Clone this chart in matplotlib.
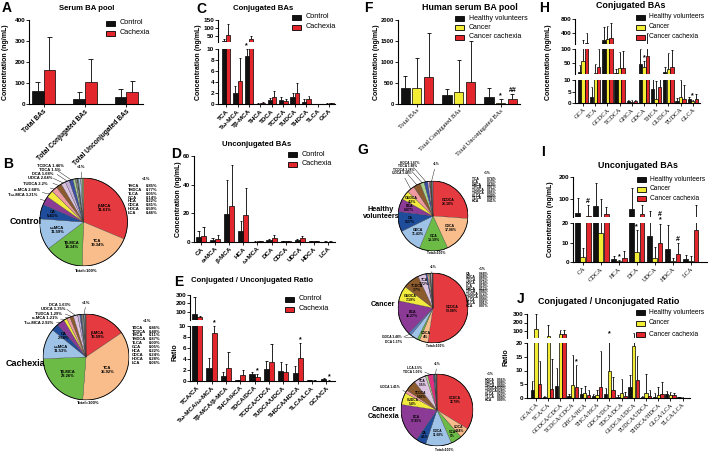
import numpy as np
import matplotlib
matplotlib.use('Agg')
import matplotlib.pyplot as plt
from matplotlib.patches import Rectangle, Circle

plt.rcParams['font.family'] = ['Liberation Sans', 'DejaVu Sans']
plt.rcParams['font.weight'] = 'bold'
plt.rcParams['axes.linewidth'] = 0.8

W, H = 709, 454
fig = plt.figure(figsize=(W / 100, H / 100), dpi=100)

BLACK = '#111111'
RED = '#E3262B'
YELLOW = '#F3EC34'
SERIF = ['Liberation Serif', 'DejaVu Serif']

# ------------------------------------------------------------------ data
# A  Serum BA pool (mouse)
A_cats = ['Total BAs', 'Total Conjugated BAs', 'Total Unconjugated BAs']
A_control = [60, 25, 35]
A_control_err = [45, 32, 38]
A_cachexia = [160, 105, 55]
A_cachexia_err = [160, 110, 55]

# C  Conjugated BAs (mouse)
C_cats = ['TCA', 'Tω-MCA', 'Tβ-MCA', 'THCA', 'TDCA', 'TCDCA', 'TUDCA', 'THDCA', 'TLCA', 'GCA']
C_control = [20, 2.0, 8.7, 0.1, 0.8, 0.8, 1.3, 0.4, 0.02, 0.1]
C_control_err = [12, 1.3, 1.3, 0.15, 0.4, 0.5, 0.7, 0.5, 0.02, 0.1]
C_cachexia = [56, 4.2, 30, 0.3, 1.3, 0.6, 2.0, 0.9, 0.02, 0.15]
C_cachexia_err = [70, 4.3, 20, 0.2, 1.1, 0.4, 1.8, 0.6, 0.02, 0.1]

# D  Unconjugated BAs (mouse)
D_cats = ['CA', 'α-MCA', 'β-MCA', 'HCA', 'ω-MCA', 'DCA', 'CDCA', 'UDCA', 'HDCA', 'LCA']
D_control = [3.7, 1.5, 19.5, 7.5, 0.3, 1.2, 0.5, 1.3, 0.5, 0.3]
D_control_err = [4, 1.5, 24, 7, 0.3, 0.8, 0.4, 1.0, 0.4, 0.3]
D_cachexia = [4.2, 2.0, 25, 18.5, 0.5, 2.8, 0.4, 2.5, 0.4, 0.2]
D_cachexia_err = [6, 3, 29, 19, 0.4, 2.0, 0.4, 1.8, 0.4, 0.2]

# E  Conjugated / Unconjugated ratio (mouse)
E_cats = ['TCA/CA', 'Tω-MCA/ω-MCA', 'Tβ-MCA/β-MCA', 'THCA/HCA', 'TDCA/DCA',
          'TCDCA/CDCA', 'TUDCA/UDCA', 'THDCA/HDCA', 'TLCA/LCA', 'GCA/CA']
E_control = [80, 2.3, 0.9, 0.1, 1.2, 2.2, 1.8, 1.5, 0.1, 0.3]
E_control_err = [200, 1.8, 0.7, 0.1, 0.5, 1.4, 1.7, 1.3, 0.1, 0.2]
E_cachexia = [35, 8.7, 2.4, 1.1, 0.8, 3.5, 1.6, 4.1, 0.05, 0.05]
E_cachexia_err = [12, 1.3, 2.9, 0.9, 0.4, 3.2, 1.5, 2.8, 0.05, 0.05]

# F  Human serum BA pool
F_cats = ['Total BAs', 'Total Conjugated BAs', 'Total Unconjugated BAs']
F_healthy = [388, 214, 174]
F_healthy_err = [280, 136, 214]
F_cancer = [373, 293, 31]
F_cancer_err = [730, 755, 81]
F_cachexia = [650, 531, 119]
F_cachexia_err = [1050, 960, 119]

# H  Conjugated BAs (human)
H_cats = ['GCA', 'TCA', 'GCDCA', 'TCDCA', 'GHCA', 'GDCA', 'THCA', 'GUDCA', 'TUDCA', 'GLCA']
H_healthy = [17, 2.8, 200, 15, 1.0, 45, 6, 19, 0.9, 1.6]
H_healthy_err = [26, 4.3, 380, 12, 0.5, 55, 5, 18, 1.1, 1.1]
H_cancer = [57, 13, 220, 31, 0.5, 37, 1.7, 27, 2.5, 0.7]
H_cancer_err = [143, 32, 380, 60, 0.7, 20, 8, 60, 7.5, 0.8]
H_cachexia = [120, 37, 265, 33, 0.8, 75, 6.8, 37, 1.7, 1.7]
H_cachexia_err = [290, 63, 420, 60, 0.5, 320, 5, 60, 6, 2.1]

# I  Unconjugated BAs (human)
I_cats = ['CA', 'CDCA', 'HCA', 'DCA', 'UDCA', 'HDCA', 'LCA']
I_healthy = [38, 68, 1.7, 53, 13.4, 6.5, 1.3]
I_healthy_err = [65, 103, 1.5, 96, 32, 12.5, 2.5]
I_cancer = [2.4, 14.7, 0.3, 5.3, 2.3, 0.5, 0.7]
I_cancer_err = [4.6, 85, 0.5, 11, 5.6, 1.5, 2.5]
I_cachexia = [23, 32, 2.0, 32, 9.7, 3.9, 16.3]
I_cachexia_err = [50, 33, 3.8, 41, 10, 5.9, 57]

# J  Conjugated / Unconjugated ratio (human)
J_cats = ['GCA/CA', 'TCA/CA', 'GCDCA/CDCA', 'TCDCA/CDCA', 'GHCA/HCA', 'THCA/HCA', 'GDCA/DCA',
          'TDCA/DCA', 'GUDCA/UDCA', 'TUDCA/UDCA', 'THDCA/HDCA', 'GLCA/LCA', 'TLCA/LCA']
J_healthy = [2.9, 0.5, 4.4, 0.8, 1.3, 0.6, 1.5, 0.5, 4.0, 0.3, 0.5, 1.5, 0.2]
J_healthy_err = [3.3, 0.3, 6.6, 0.5, 2.5, 1.0, 2.0, 0.5, 4.5, 0.3, 1.2, 1.0, 0.1]
J_cancer = [120, 45, 60, 4.7, 2.0, 1.0, 9.8, 2.0, 19, 1.7, 1.2, 1.0, 0.1]
J_cancer_err = [180, 130, 50, 10.9, 2.5, 2.0, 12, 5.0, 60, 7.0, 2.8, 1.2, 0.1]
J_cachexia = [5.1, 3.3, 60, 4.0, 1.0, 4.0, 2.8, 0.8, 6.4, 0.8, 1.6, 1.0, 0.05]
J_cachexia_err = [8.5, 11, 50, 8, 2.0, 13, 4.7, 1.5, 9, 2.0, 4.4, 1.0, 0.05]

# B pies (mouse composition, %)
B_control_names = ['β-MCA', 'TCA', 'Tβ-MCA', 'ω-MCA', 'CA', 'Tω-MCA', 'α-MCA', 'TUDCA', 'UDCA',
                   'DCA', 'TDCA', 'TCDCA', 'THCA', 'THDCA', 'TLCA', 'GCA', 'HCA', 'CDCA', 'HDCA', 'LCA']
B_control_pct = [31.61, 19.34, 14.34, 11.59, 5.41, 3.21, 2.68, 2.2, 2.04, 1.68, 1.5, 1.46,
                 0.85, 0.77, 0.05, 0.14, 0.22, 0.81, 0.59, 0.46]
B_cachexia_names = ['β-MCA', 'TCA', 'Tβ-MCA', 'ω-MCA', 'CA', 'Tω-MCA', 'α-MCA', 'TUDCA', 'UDCA',
                    'DCA', 'TDCA', 'TCDCA', 'THCA', 'THDCA', 'TLCA', 'GCA', 'HCA', 'CDCA', 'HDCA', 'LCA']
B_cachexia_pct = [15.59, 35.92, 23.26, 11.53, 2.68, 2.92, 1.21, 1.29, 1.35, 1.63, 0.86, 0.48,
                  0.11, 0.87, 0.00, 0.05, 0.22, 0.24, 0.28, 0.06]

# G pies (human composition, %)
G_healthy_names = ['GCDCA', 'CDCA', 'GCA', 'GDCA', 'CA', 'DCA', 'GUDCA', 'UDCA', 'TCDCA', 'TDCA', 'HDCA',
                   'TCA', 'LCA', 'GHCA', 'THCA', 'TUDCA', 'THDCA', 'GLCA', 'TLCA', 'HCA']
G_healthy_pct = [26.18, 17.08, 13.19, 11.43, 9.27, 6.07, 4.2, 3.48, 3.28, 1.88, 1.67,
                 0.74, 0.33, 0.19, 0.07, 0.19, 0.05, 0.40, 0.06, 0.41]
G_cancer_names = ['GCDCA', 'CDCA', 'GCA', 'GDCA', 'DCA', 'DCA', 'GUDCA', 'TCDCA', 'TCA',
                  'CA', 'UDCA', 'TDCA', 'HDCA', 'LCA', 'GHCA', 'THCA', 'TUDCA', 'THDCA', 'GLCA', 'TLCA', 'HCA']
G_cancer_pct = [53.08, 4.0, 1.2, 3.48, 1.37, 16.27, 7.19, 7.7, 3.72,
                0.68, 0.68, 0.52, 0.14, 0.19, 0.17, 0.08, 0.72, 0.03, 0.09, 0.01, 0.07]
G_cachexia_names = ['GCDCA', 'CDCA', 'GCA', 'GDCA', 'CA', 'DCA', 'GUDCA', 'UDCA', 'TCDCA', 'TCA',
                    'TDCA', 'LCA', 'HDCA', 'GHCA', 'THCA', 'TUDCA', 'THDCA', 'GLCA', 'TLCA', 'HCA']
G_cachexia_pct = [33.79, 4.64, 5.0, 11.68, 4.5, 17.85, 5.40, 1.41, 5.03, 5.50,
                  1.06, 2.5, 0.56, 0.08, 0.09, 0.30, 0.28, 0.20, 0.04, 0.09]

# ------------------------------------------------------------------ helpers
def ax_px(x0, y0, x1, y1):
    return fig.add_axes([x0 / W, 1 - y1 / H, (x1 - x0) / W, (y1 - y0) / H])


def ftext(x, y, s, **kw):
    return fig.text(x / W, 1 - y / H, s, **kw)


def bar_panel(x0, x1, segs, cats, series, colors, width, offsets, xlim,
              serif=False, xfs=4.6, marks=(), tfs=4.6):
    n = len(cats)
    x = np.arange(n)
    axes = []
    capw = width * 0.22
    for k, (ylo, yhi, top, bot, ticks) in enumerate(segs):
        ax = ax_px(x0, top, x1, bot)
        for (vals, errs), c, off in zip(series, colors, offsets):
            vals = np.asarray(vals, float)
            errs = np.asarray(errs, float)
            xs = x + off
            ax.bar(xs, vals, width, color=c, edgecolor='black', linewidth=0.5, zorder=2)
            ax.vlines(xs, vals, vals + errs, colors='black', linewidth=0.6, zorder=3)
            ax.hlines(vals + errs, xs - capw, xs + capw, colors='black', linewidth=0.6, zorder=3)
        ax.set_ylim(ylo, yhi)
        ax.set_xlim(*xlim)
        ax.set_yticks(ticks)
        ax.set_yticklabels([str(t) for t in ticks], fontsize=tfs, fontweight='bold')
        ax.tick_params(axis='y', length=2, width=0.6, pad=0.8)
        for s in ('top', 'right'):
            ax.spines[s].set_visible(False)
        if k < len(segs) - 1:
            ax.spines['bottom'].set_visible(False)
            ax.set_xticks([])
        else:
            ax.set_xticks(x)
            if serif:
                ax.set_xticklabels(cats, rotation=45, ha='right', rotation_mode='anchor',
                                   fontsize=xfs, fontfamily=SERIF, fontweight='normal')
            else:
                ax.set_xticklabels(cats, rotation=45, ha='right', rotation_mode='anchor',
                                   fontsize=xfs, fontweight='bold')
            ax.tick_params(axis='x', length=2, width=0.6, pad=1)
        ax.patch.set_alpha(0)
        axes.append(ax)
    for ci, si, txt in marks:
        vals, errs = series[si]
        y = vals[ci] + errs[ci]
        target = axes[0]
        yy = min(y, segs[0][1])
        for k, (ylo, yhi, *_r) in enumerate(segs):
            if ylo <= y <= yhi:
                target, yy = axes[k], y
        target.text(ci + offsets[si], yy, txt, ha='center', va='bottom', fontsize=5,
                    fontweight='bold', clip_on=False, linespacing=0.7)
    return axes


def legend_px(x, y, labels, colors, dy, fs=5.3, bw=9, bh=5, gap=5):
    for i, (lab, c) in enumerate(zip(labels, colors)):
        yy = y + i * dy
        fig.patches.append(Rectangle((x / W, 1 - (yy + bh / 2) / H), bw / W, bh / H,
                                     transform=fig.transFigure, facecolor=c,
                                     edgecolor='black', linewidth=0.6, figure=fig))
        ftext(x + bw + gap, yy, lab, fontsize=fs, va='center', ha='left', fontweight='normal')


def pie_px(cx, cy, r, names, pcts, colors, inner, outer, fs_in, fs_out, less_pos):
    ax = ax_px(cx - r, cy - r, cx + r, cy + r)
    wedges, _ = ax.pie(pcts, colors=colors, startangle=90, counterclock=False,
                       wedgeprops=dict(edgecolor='#333333', linewidth=0.2))
    ax.add_patch(Circle((0, 0), 1.0, fill=False, edgecolor='black', linewidth=0.6))
    ax.set_xlim(-1, 1)
    ax.set_ylim(-1, 1)
    for i, w in enumerate(wedges):
        ang = np.deg2rad((w.theta1 + w.theta2) / 2)
        lab = '%s\n%s%%' % (names[i], ('%.2f' % pcts[i]).rstrip('0').rstrip('.'))
        if i in inner:
            rr = inner[i]
            ax.text(rr * np.cos(ang), rr * np.sin(ang), lab, ha='center', va='center',
                    fontsize=fs_in, linespacing=1.0)
        elif i in outer:
            tx, ty = outer[i]
            ax.annotate(lab.replace('\n', ' '), xy=(np.cos(ang), np.sin(ang)), xytext=(tx, ty),
                        ha='right', va='center', fontsize=fs_out, annotation_clip=False,
                        arrowprops=dict(arrowstyle='-', lw=0.3, color='black',
                                        shrinkA=0, shrinkB=0))
    ax.annotate('<1%', xy=(-0.04, 1.0), xytext=less_pos, ha='center', va='bottom',
                fontsize=fs_out, annotation_clip=False,
                arrowprops=dict(arrowstyle='-', lw=0.3, color='black', shrinkA=0, shrinkB=0))
    return ax


def small_list(xn, xv, y0, dy, names, pcts, fs, header_xy):
    ftext(header_xy[0], header_xy[1], '<1%', fontsize=fs, ha='center', va='center')
    for i, (nm, p) in enumerate(zip(names, pcts)):
        ftext(xn, y0 + i * dy, nm, fontsize=fs, ha='left', va='center')
        ftext(xv, y0 + i * dy, '%.2f%%' % p, fontsize=fs, ha='left', va='center')


# ------------------------------------------------------------------ letters & titles
for letter, (lx, ly) in {'A': (2, 1), 'B': (3, 157), 'C': (196, 2), 'D': (171, 147), 'E': (174, 275),
                         'F': (364, 1), 'G': (357, 143), 'H': (539, 1), 'I': (541, 145), 'J': (517, 292)}.items():
    ftext(lx, ly, letter, fontsize=10, fontweight='bold', ha='left', va='top')

titles = [('Serum BA pool', 87, 8, 5.6), ('Conjugated BAs', 263, 8, 5.6), ('Unconjugated BAs', 257, 144, 5.6),
          ('Conjugated / Unconjugated Ratio', 252, 281, 5.6), ('Human serum BA pool', 470, 7, 6.4),
          ('Conjugated BAs', 631, 6, 6.4), ('Unconjugated BAs', 638, 165, 6.4),
          ('Conjugated / Unconjugated Ratio', 609, 301, 6.4)]
for t, tx, ty, fs in titles:
    ftext(tx, ty, t, fontsize=fs, fontweight='bold', ha='center', va='center')

ylabels = [('Concentration (ng/mL)', 6, 62), ('Concentration (ng/mL)', 199, 62),
           ('Concentration (ng/mL)', 178, 199), ('Ratio', 175, 352),
           ('Concentration (ng/mL)', 377, 62), ('Concentration (ng/mL)', 548, 62),
           ('Concentration (ng/mL)', 551, 219), ('Ratio', 506, 357)]
for t, tx, ty in ylabels:
    ftext(tx, ty, t, fontsize=5, fontweight='bold', rotation=90, ha='center', va='center')

# ------------------------------------------------------------------ bar panels
two = [BLACK, RED]
three = [BLACK, YELLOW, RED]

bar_panel(29, 143, [(0, 400, 20, 104, [0, 100, 200, 300, 400])], A_cats,
          [(A_control, A_control_err), (A_cachexia, A_cachexia_err)], two, 0.28, [-0.14, 0.14],
          (-0.35, 2.4), xfs=4.8)
legend_px(106, 23, ['Control', 'Cachexia'], two, 10)

bar_panel(218, 335, [(10, 150, 20, 42.4, [50, 100, 150]), (0, 10, 49.3, 104.3, [0, 2, 4, 6, 8, 10])],
          C_cats, [(C_control, C_control_err), (C_cachexia, C_cachexia_err)], two, 0.38, [-0.19, 0.19],
          (-0.7, 9.5), marks=[(2, 0, '*')])
legend_px(292, 17, ['Control', 'Cachexia'], two, 10)

bar_panel(194, 335, [(0, 60, 156, 242, [0, 20, 40, 60])], D_cats,
          [(D_control, D_control_err), (D_cachexia, D_cachexia_err)], two, 0.36, [-0.18, 0.18],
          (-0.5, 9.5))
legend_px(288, 154, ['Control', 'Cachexia'], two, 10)

bar_panel(190, 335, [(10, 300, 295, 319.6, [100, 200, 300]), (0, 10, 326, 381, [0, 2, 4, 6, 8, 10])],
          E_cats, [(E_control, E_control_err), (E_cachexia, E_cachexia_err)], two, 0.36, [-0.18, 0.18],
          (-0.5, 9.6), marks=[(1, 1, '*'), (4, 1, '*'), (7, 1, '*'), (9, 1, '*')])
legend_px(285, 299, ['Control', 'Cachexia'], two, 10)

bar_panel(398, 520, [(0, 2000, 20, 104, [0, 500, 1000, 1500, 2000])], F_cats,
          [(F_healthy, F_healthy_err), (F_cancer, F_cancer_err), (F_cachexia, F_cachexia_err)],
          three, 0.22, [-0.28, 0, 0.28], (-0.45, 2.46), serif=True, xfs=4.6, tfs=4.2,
          marks=[(2, 1, '*'), (2, 2, '##')])
legend_px(455, 18, ['Healthy volunteers', 'Cancer', 'Cancer cachexia'], three, 9.5, fs=5.0)

bar_panel(575, 700, [(100, 800, 19, 43.5, [400, 800]), (10, 100, 49, 74.2, [50, 100]),
                     (0, 10, 80, 103, [0, 5, 10])], H_cats,
          [(H_healthy, H_healthy_err), (H_cancer, H_cancer_err), (H_cachexia, H_cachexia_err)],
          three, 0.27, [-0.29, 0, 0.29], (-0.66, 9.6), serif=True, xfs=4.6,
          marks=[(5, 1, '*'), (9, 1, '*')])
legend_px(636, 17, ['Healthy volunteers', 'Cancer', 'Cancer cachexia'], three, 10, fs=4.8, gap=4)

bar_panel(573, 707, [(20, 200, 177, 216.6, [100, 200]), (0, 20, 223, 262, [0, 10, 20])], I_cats,
          [(I_healthy, I_healthy_err), (I_cancer, I_cancer_err), (I_cachexia, I_cachexia_err)],
          three, 0.27, [-0.29, 0, 0.29], (-0.55, 6.9), serif=True, xfs=4.6,
          marks=[(0, 2, '#'), (2, 1, '*'), (3, 1, '*'), (4, 2, '#\n*'), (5, 2, '#')])
legend_px(637, 179, ['Healthy volunteers', 'Cancer', 'Cancer cachexia'], three, 10, fs=4.8, gap=4)

bar_panel(527, 690, [(20, 300, 314, 337.8, [100, 200, 300]), (0, 20, 343, 398, [0, 5, 10, 15, 20])],
          J_cats, [(J_healthy, J_healthy_err), (J_cancer, J_cancer_err), (J_cachexia, J_cachexia_err)],
          three, 0.27, [-0.3, 0, 0.3], (-0.73, 12.6), serif=True, xfs=4.4,
          marks=[(3, 2, '*'), (6, 1, '*')])
legend_px(636, 312, ['Healthy volunteers', 'Cancer', 'Cancer cachexia'], three, 11, fs=4.8, gap=4)

# ------------------------------------------------------------------ pies
mouse_colors = ['#E53A3F', '#F8BD8B', '#6DBB47', '#9EC3E7', '#1F4D9B', '#8B3B95', '#F2EA3D',
                '#EE9AA0', '#8C5B2D', '#DCC3E0', '#C4B0D8', '#3C4FA2', '#A9D18E', '#7F7F7F',
                '#BFBFBF', '#548235', '#D9D9D9', '#9DC3E6', '#A5A5A5', '#70AD47']
mouse_inner = {0: 0.58, 1: 0.58, 2: 0.58, 3: 0.62, 4: 0.72}
pie_px(83.5, 222, 44, B_control_names, B_control_pct, mouse_colors, mouse_inner,
       {5: (-1.05, 0.61), 6: (-1.0, 0.73), 7: (-0.82, 0.86), 8: (-0.70, 0.99), 9: (-0.68, 1.10),
        10: (-0.52, 1.19), 11: (-0.45, 1.28)}, 3.0, 3.0, (-0.05, 1.2))
pie_px(86, 357, 43, B_cachexia_names, B_cachexia_pct, mouse_colors, mouse_inner,
       {4: (-0.89, 0.69), 5: (-0.75, 0.80), 6: (-0.66, 0.90), 7: (-0.55, 1.01), 8: (-0.48, 1.11),
        9: (-0.36, 1.22)}, 3.0, 3.0, (0.0, 1.22))
ftext(26, 222, 'Control', fontsize=6.5, fontweight='bold', ha='center', va='center')
ftext(25, 364, 'Cachexia', fontsize=6.5, fontweight='bold', ha='center', va='center')
ftext(86, 271, 'Total=100%', fontsize=3.0, ha='center', va='center')
ftext(88, 403, 'Total=100%', fontsize=3.0, ha='center', va='center')
small_list(128, 146, 186, 3.87, B_control_names[12:], B_control_pct[12:], 3.0, (146, 179))
small_list(132, 149, 327.7, 3.9, B_cachexia_names[10:], B_cachexia_pct[10:], 3.0, (147, 321))

hc = {'GCDCA': '#E53A3F', 'CDCA': '#F8BD8B', 'GCA': '#6DBB47', 'GDCA': '#9EC3E7', 'CA': '#1F4D9B',
      'DCA': '#8B3B95', 'GUDCA': '#F2EA3D', 'UDCA': '#EE9AA0', 'TCDCA': '#8C5B2D', 'TDCA': '#A9D18E',
      'HDCA': '#3C4FA2', 'TCA': '#DCC3E0', 'LCA': '#E0307F', 'GHCA': '#BFBFBF', 'THCA': '#7F7F7F',
      'TUDCA': '#D9D9D9', 'THDCA': '#A5A5A5', 'GLCA': '#548235', 'TLCA': '#C9C9C9', 'HCA': '#8FAADC'}
col_h = [hc[n] for n in G_healthy_names]
col_c = [hc[n] for n in G_cancer_names]
col_c[4] = '#5B7FC4'
col_cc = [hc[n] for n in G_cachexia_names]

pie_px(433, 216, 35, G_healthy_names, G_healthy_pct, col_h,
       {0: 0.6, 1: 0.6, 2: 0.62, 3: 0.62, 4: 0.66, 5: 0.72, 6: 0.76},
       {7: (-0.60, 1.22), 8: (-0.53, 1.32), 9: (-0.46, 1.42), 10: (-0.39, 1.52)}, 2.5, 2.3, (0.08, 1.42))
pie_px(433, 308, 35, G_cancer_names, G_cancer_pct, col_c,
       {0: 0.55, 1: 0.8, 5: 0.62, 6: 0.7, 7: 0.72, 8: 0.78},
       {3: (-0.89, -0.84), 4: (-0.89, -0.96)}, 2.5, 2.3, (0.0, 1.12))
pie_px(437, 410, 36, G_cachexia_names, G_cachexia_pct, col_cc,
       {0: 0.58, 1: 0.8, 2: 0.78, 3: 0.65, 4: 0.78, 5: 0.62, 6: 0.72, 8: 0.6, 9: 0.84},
       {7: (-1.03, 0.63), 10: (-0.42, 1.06), 11: (-0.42, 1.18)}, 2.3, 2.3, (0.0, 1.22))
ftext(381, 213, 'Healthy\nvolunteers', fontsize=5.2, fontweight='bold', ha='center', va='center',
      linespacing=1.1)
ftext(383, 305, 'Cancer', fontsize=5.2, fontweight='bold', ha='center', va='center')
ftext(384, 413, 'Cancer\nCachexia', fontsize=5.2, fontweight='bold', ha='center', va='center',
      linespacing=1.1)
ftext(436, 253, 'Total=100%', fontsize=2.4, ha='center', va='center')
ftext(435, 346, 'Total=100%', fontsize=2.4, ha='center', va='center')
ftext(444, 450, 'Total=100%', fontsize=2.4, ha='center', va='center')
small_list(472, 487, 179, 2.75, G_healthy_names[11:], G_healthy_pct[11:], 2.4, (487, 173))
small_list(466, 479, 274, 2.9, G_cancer_names[9:], G_cancer_pct[9:], 2.4, (482, 269))
small_list(485, 497, 380, 2.8, G_cachexia_names[12:], G_cachexia_pct[12:], 2.4, (490, 374))

fig.savefig('out.png', dpi=100)
